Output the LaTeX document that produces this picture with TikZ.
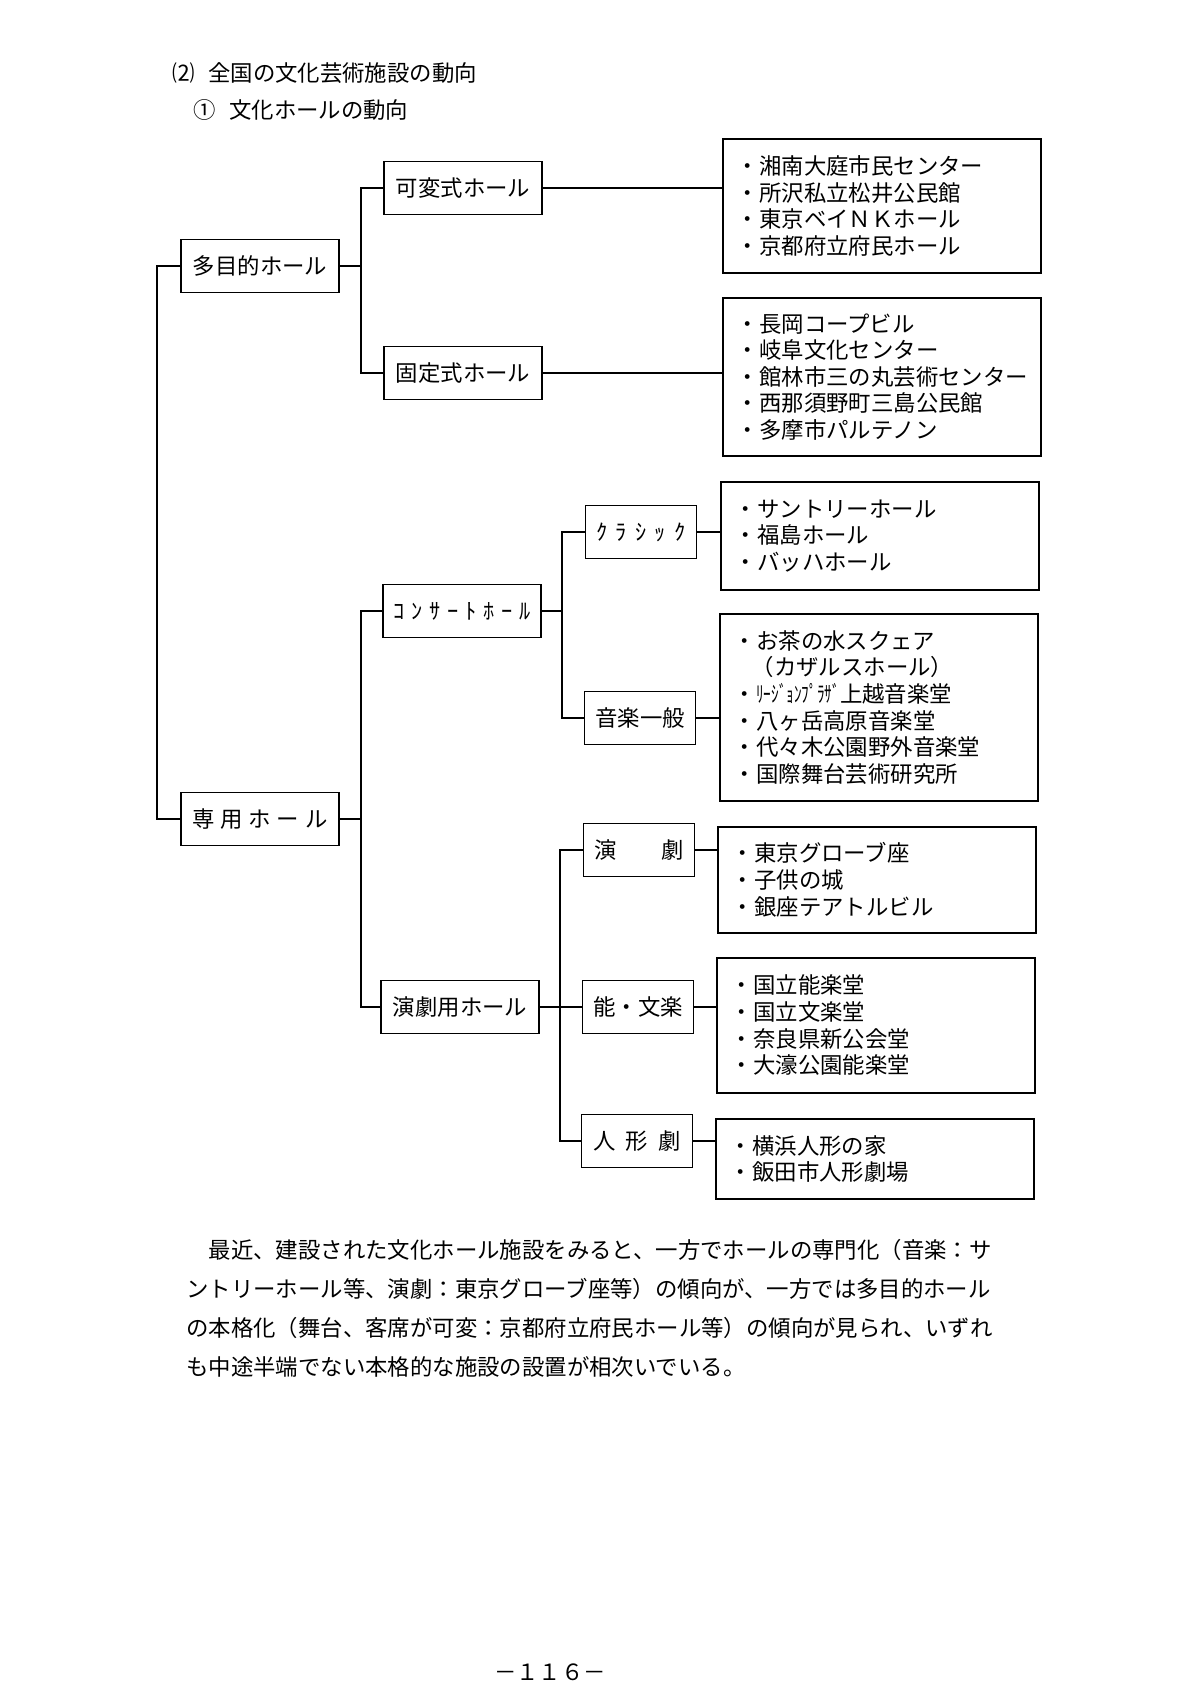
\documentclass[tikz,border=0pt]{standalone}
\usepackage{fontspec}
\usepackage{graphicx}
\setmainfont{Noto Sans CJK JP}
\newlength{\pxl}\setlength{\pxl}{0.175mm}
\newcommand{\jpfont}{\fontsize{11.15pt}{13.25pt}\selectfont}
\newcommand{\parafont}{\fontsize{11.15pt}{19.4pt}\selectfont}
\newcommand{\kgap}[1][.3em]{\hspace{#1}}
\tikzset{
  hallbox/.style={draw, line width=0.85pt, minimum width=158\pxl, minimum height=53\pxl, inner sep=0pt},
  typebox/.style={hallbox, minimum width=111\pxl},
  listbox/.style={draw, line width=0.85pt, anchor=north west, text width=290\pxl, inner xsep=14\pxl, inner ysep=0pt, align=left},
  link/.style={line width=0.7pt}
}
\begin{document}
\begin{tikzpicture}[x=0.175mm, y=-0.175mm, font=\jpfont]
    \path[use as bounding box, fill=white] (0,0) rectangle (1200,1697);

    % headings
    \node[anchor=west, inner sep=0pt] (heading) at (172,73) {⑵\kgap[.6em]全国の文化芸術施設の動向};
    \node[anchor=west, inner sep=0pt] (subheading) at (193,110) {①\kgap[.6em]文化ホールの動向};

    % hall types
    \node[hallbox] (tamoku) at (260,266) {多目的ホール};
    \node[hallbox] (senyo) at (260,819) {専\kgap[.26em]用\kgap[.26em]ホ\kgap[.26em]ー\kgap[.26em]ル};

    \node[hallbox] (kahen) at (463,188) {可変式ホール};
    \node[hallbox] (kotei) at (463,373) {固定式ホール};
    \node[hallbox] (concert) at (462,611) {ｺ\kgap ﾝ\kgap ｻ\kgap ｰ\kgap ﾄ\kgap ﾎ\kgap ｰ\kgap ﾙ};
    \node[hallbox] (engekiyou) at (460,1007) {演劇用ホール};

    \node[typebox] (classic) at (641,532) {ｸ\kgap[.37em]ﾗ\kgap[.37em]ｼ\kgap[.37em]ｯ\kgap[.37em]ｸ};
    \node[typebox] (ongaku) at (640,718) {音楽一般};
    \node[typebox] (engeki) at (639,850) {演　　劇};
    \node[typebox] (nou) at (638,1007) {能・文楽};
    \node[typebox] (ningyo) at (637,1141) {人\kgap[.44em]形\kgap[.44em]劇};

    % facility lists
    \node[listbox, minimum height=134\pxl] (kahenlist) at (722,138) {・湘南大庭市民センター\\・所沢私立松井公民館\\・東京ベイＮＫホール\\・京都府立府民ホール};
    \node[listbox, minimum height=158\pxl] (koteilist) at (722,297) {・長岡コープビル\\・岐阜文化センター\\・館林市三の丸芸術センター\\・西那須野町三島公民館\\・多摩市パルテノン};
    \node[listbox, minimum height=108\pxl] (classiclist) at (720,481) {・サントリーホール\\・福島ホール\\・バッハホール};
    \node[listbox, minimum height=187\pxl] (ongakulist) at (719,613) {・お茶の水スクェア\\\hspace*{.8em}（カザルスホール）\\・\scalebox{0.68}[1]{ﾘｰｼﾞｮﾝﾌﾟﾗｻﾞ}上越音楽堂\\・八ヶ岳高原音楽堂\\・代々木公園野外音楽堂\\・国際舞台芸術研究所};
    \node[listbox, minimum height=106\pxl] (engekilist) at (717,826) {・東京グローブ座\\・子供の城\\・銀座テアトルビル};
    \node[listbox, minimum height=135\pxl] (noulist) at (716,957) {・国立能楽堂\\・国立文楽堂\\・奈良県新公会堂\\・大濠公園能楽堂};
    \node[listbox, minimum height=80\pxl] (ningyolist) at (715,1118) {・横浜人形の家\\・飯田市人形劇場};

    % tree lines
    \draw[link] (tamoku.west) -- ++(-23,0) |- (senyo.west);
    \draw[link] (tamoku.east) -- ++(21,0) coordinate (tamokuj);
    \draw[link] (tamokuj) |- (kahen.west);
    \draw[link] (tamokuj) |- (kotei.west);
    \draw[link] (senyo.east) -- ++(21,0) coordinate (senyoj);
    \draw[link] (senyoj) |- (concert.west);
    \draw[link] (senyoj) |- (engekiyou.west);
    \draw[link] (concert.east) -- ++(20,0) coordinate (concertj);
    \draw[link] (concertj) |- (classic.west);
    \draw[link] (concertj) |- (ongaku.west);
    \draw[link] (engekiyou.east) -- ++(20,0) coordinate (engekiyouj);
    \draw[link] (engekiyouj) |- (engeki.west);
    \draw[link] (engekiyouj) |- (nou.west);
    \draw[link] (engekiyouj) |- (ningyo.west);

    \draw[link] (kahen.east) -- (kahen.east -| kahenlist.west);
    \draw[link] (kotei.east) -- (kotei.east -| koteilist.west);
    \draw[link] (classic.east) -- (classic.east -| classiclist.west);
    \draw[link] (ongaku.east) -- (ongaku.east -| ongakulist.west);
    \draw[link] (engeki.east) -- (engeki.east -| engekilist.west);
    \draw[link] (nou.east) -- (nou.east -| noulist.west);
    \draw[link] (ningyo.east) -- (ningyo.east -| ningyolist.west);

    % text below
    \node[anchor=west, align=left, inner sep=0pt, font=\parafont] (remarks) at (186,1308) {　最近、建設された文化ホール施設をみると、一方でホールの専門化（音楽：サ\\ントリーホール等、演劇：東京グローブ座等）の傾向が、一方では多目的ホール\\の本格化（舞台、客席が可変：京都府立府民ホール等）の傾向が見られ、いずれ\\も中途半端でない本格的な施設の設置が相次いでいる。};

    \node (pageno) at (550,1672) {－１１６－};
\end{tikzpicture}
\end{document}
